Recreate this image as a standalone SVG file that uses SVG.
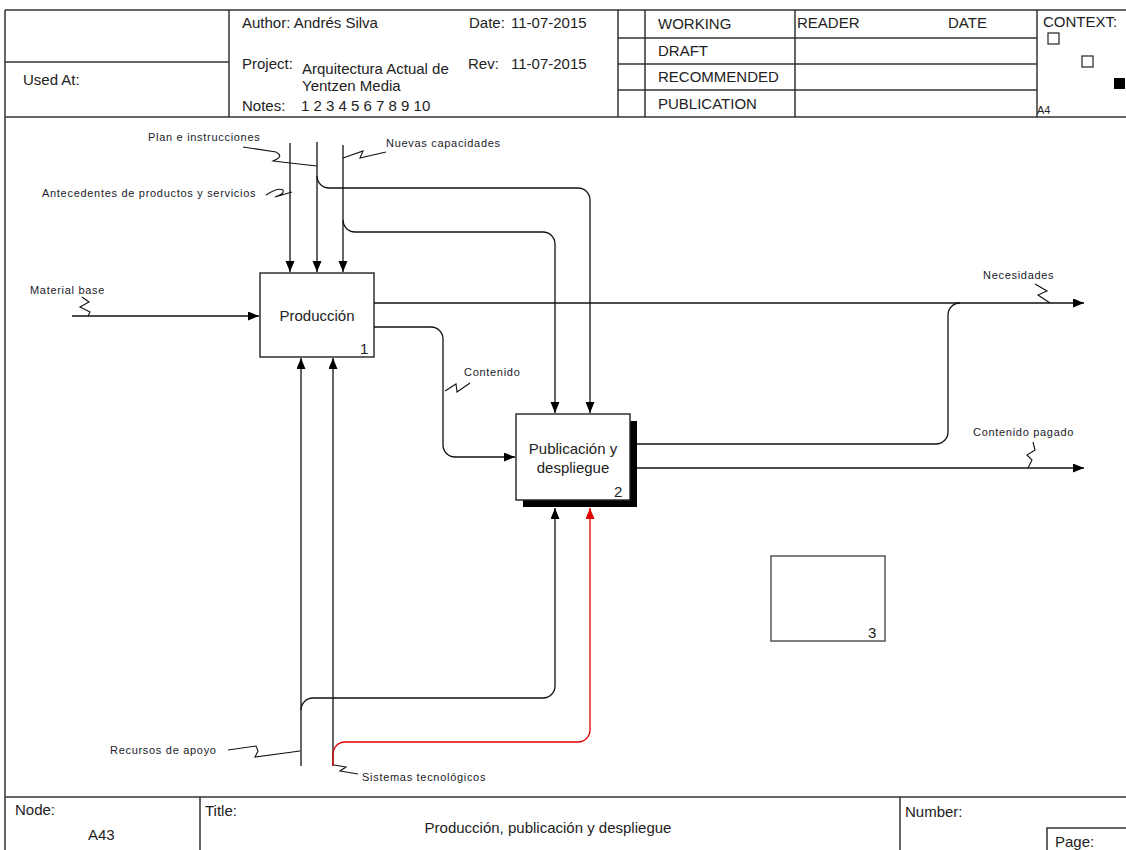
<svg xmlns="http://www.w3.org/2000/svg" width="1126" height="850" viewBox="0 0 1126 850">
<style>
.frame{stroke:#333;stroke-width:1.5;fill:none}
.h{font-family:"Liberation Sans",Arial,sans-serif;font-size:15px;fill:#222}
.hs{font-family:"Liberation Sans",Arial,sans-serif;font-size:11px;fill:#222}
.lbl{font-family:"Liberation Sans",Arial,sans-serif;font-size:11px;letter-spacing:0.7px;fill:#1a1a2a}
.bt{font-family:"Liberation Sans",Arial,sans-serif;font-size:15px;fill:#222}
.box{fill:#fff;stroke:#222;stroke-width:1.4}
.c{fill:none;stroke:#111;stroke-width:1.3}
.red{fill:none;stroke:#e00000;stroke-width:1.3}
.sq{fill:none;stroke:#111;stroke-width:1.1}
</style>
<defs>
<marker id="arr" markerUnits="userSpaceOnUse" markerWidth="12" markerHeight="10" refX="11" refY="4.5" orient="auto"><path d="M0,0 L11,4.5 L0,9 z" fill="#000"/></marker>
<marker id="arrR" markerUnits="userSpaceOnUse" markerWidth="12" markerHeight="10" refX="11" refY="4.5" orient="auto"><path d="M0,0 L11,4.5 L0,9 z" fill="#e00000"/></marker>
</defs>
<rect width="1126" height="850" fill="#fff"/>
<g id="header">
<line class="frame" x1="5" y1="10" x2="1126" y2="10"/>
<line class="frame" x1="5" y1="10" x2="5" y2="850"/>
<line class="frame" x1="5" y1="117" x2="1126" y2="117"/>
<line class="frame" x1="5" y1="62" x2="229" y2="62"/>
<line class="frame" x1="229" y1="10" x2="229" y2="117"/>
<line class="frame" x1="618" y1="10" x2="618" y2="117"/>
<line class="frame" x1="645" y1="10" x2="645" y2="117"/>
<line class="frame" x1="795" y1="10" x2="795" y2="117"/>
<line class="frame" x1="1037" y1="10" x2="1037" y2="117"/>
<line class="frame" x1="618" y1="38" x2="1037" y2="38"/>
<line class="frame" x1="618" y1="64" x2="1037" y2="64"/>
<line class="frame" x1="618" y1="90" x2="1037" y2="90"/>
<text class="h" x="23" y="85">Used At:</text>
<text class="h" x="242" y="28">Author:  Andrés Silva</text>
<text class="h" x="242" y="69">Project:</text>
<text class="h" x="302" y="74">Arquitectura Actual de</text>
<text class="h" x="302" y="91">Yentzen Media</text>
<text class="h" x="242" y="111">Notes:</text>
<text class="h" x="301" y="111">1 2 3 4 5 6 7 8 9 10</text>
<text class="h" x="469" y="28">Date:</text>
<text class="h" x="511" y="28">11-07-2015</text>
<text class="h" x="468" y="69">Rev:</text>
<text class="h" x="511" y="69">11-07-2015</text>
<text class="h" x="658" y="29">WORKING</text>
<text class="h" x="658" y="56">DRAFT</text>
<text class="h" x="658" y="82">RECOMMENDED</text>
<text class="h" x="658" y="109">PUBLICATION</text>
<text class="h" x="797" y="28">READER</text>
<text class="h" x="948" y="28">DATE</text>
<text class="h" x="1043" y="27">CONTEXT:</text>
<rect x="1048" y="33" width="11" height="11" fill="#fff" stroke="#333" stroke-width="1.3"/>
<rect x="1082" y="56" width="11" height="11" fill="#fff" stroke="#333" stroke-width="1.3"/>
<rect x="1114" y="78" width="11" height="11" fill="#000"/>
<text class="hs" x="1037" y="114">A4</text>
</g>
<g id="footer">
<line class="frame" x1="5" y1="797" x2="1126" y2="797"/>
<line class="frame" x1="200" y1="797" x2="200" y2="850"/>
<line class="frame" x1="900" y1="797" x2="900" y2="850"/>
<path class="frame" d="M1047,850 V828 H1126"/>
<text class="h" x="15" y="815">Node:</text>
<text class="h" x="88" y="840">A43</text>
<text class="h" x="205" y="816">Title:</text>
<text class="h" x="548" y="833" text-anchor="middle">Producción, publicación y despliegue</text>
<text class="h" x="905" y="817">Number:</text>
<text class="h" x="1055" y="847">Page:</text>
</g>
<g id="connectors">
<path class="c" d="M72,316 H259" marker-end="url(#arr)"/>
<path class="c" d="M290,143 V272" marker-end="url(#arr)"/>
<path class="c" d="M317,142 V272" marker-end="url(#arr)"/>
<path class="c" d="M343,145 V272" marker-end="url(#arr)"/>
<path class="c" d="M317,176 A12,12 0 0 0 329,188 H578 A12,12 0 0 1 590,200 V413" marker-end="url(#arr)"/>
<path class="c" d="M343,220 A12,12 0 0 0 355,232 H543 A12,12 0 0 1 555,244 V413" marker-end="url(#arr)"/>
<path class="c" d="M374,303 H1084" marker-end="url(#arr)"/>
<path class="c" d="M374,327 H431 A12,12 0 0 1 443,339 V445 A12,12 0 0 0 455,457 H515" marker-end="url(#arr)"/>
<path class="c" d="M630,444 H936 A12,12 0 0 0 948,432 V315 A12,12 0 0 1 960,303"/>
<path class="c" d="M630,468 H1084" marker-end="url(#arr)"/>
<path class="c" d="M301,766 V358" marker-end="url(#arr)"/>
<path class="c" d="M333,766 V358" marker-end="url(#arr)"/>
<path class="c" d="M301,710 A12,12 0 0 1 313,698 H543 A12,12 0 0 0 555,686 V508" marker-end="url(#arr)"/>
<path class="red" d="M333,766 V754 A12,12 0 0 1 345,742 H578 A12,12 0 0 0 590,730 V508" marker-end="url(#arrR)"/>
<path class="sq" d="M243,147 L276,152 Q283,156 277,159 L273,161 L290,163 L317,166"/>
<path class="sq" d="M266,195 Q278,187 283,190 Q285,194 275,197 L292,192"/>
<path class="sq" d="M343,158 L363,151 L360,158 L386,152"/>
<path class="sq" d="M82,297 L89,302 L80,307 L90,312 L88,316"/>
<path class="sq" d="M1035,284 L1047,291 L1038,295 L1050,303"/>
<path class="sq" d="M1033,442 L1035,450 L1027,455 L1032,460 L1028,468"/>
<path class="sq" d="M445,391 L456,384 L457,392 L470,383"/>
<path class="sq" d="M228,750 L256,746 L258,751 L255,757 L300,751"/>
<path class="sq" d="M334,765 L346,767 L340,771 L358,774"/>
</g>
<g id="labels">
<text class="lbl" x="148" y="141">Plan e instrucciones</text>
<text class="lbl" x="42" y="197">Antecedentes de productos y servicios</text>
<text class="lbl" x="386" y="147">Nuevas capacidades</text>
<text class="lbl" x="30" y="294">Material base</text>
<text class="lbl" x="983" y="279">Necesidades</text>
<text class="lbl" x="464" y="376">Contenido</text>
<text class="lbl" x="973" y="436">Contenido pagado</text>
<text class="lbl" x="110" y="754">Recursos de apoyo</text>
<text class="lbl" x="362" y="781">Sistemas tecnológicos</text>
</g>
<g id="node1">
<rect class="box" x="260" y="273" width="114" height="84"/>
<text class="bt" x="317" y="321" text-anchor="middle">Producción</text>
<text class="bt" x="360" y="354">1</text>
</g>
<g id="node2">
<rect x="523" y="421" width="114" height="86" fill="#000"/>
<rect class="box" x="516" y="414" width="114" height="86"/>
<text class="bt" x="573" y="454" text-anchor="middle">Publicación y</text>
<text class="bt" x="573" y="473" text-anchor="middle">despliegue</text>
<text class="bt" x="614" y="497">2</text>
</g>
<g id="node3">
<rect x="771" y="556" width="114" height="85" fill="#fff" stroke="#555" stroke-width="1.5"/>
<text class="bt" x="868" y="638">3</text>
</g>
</svg>
